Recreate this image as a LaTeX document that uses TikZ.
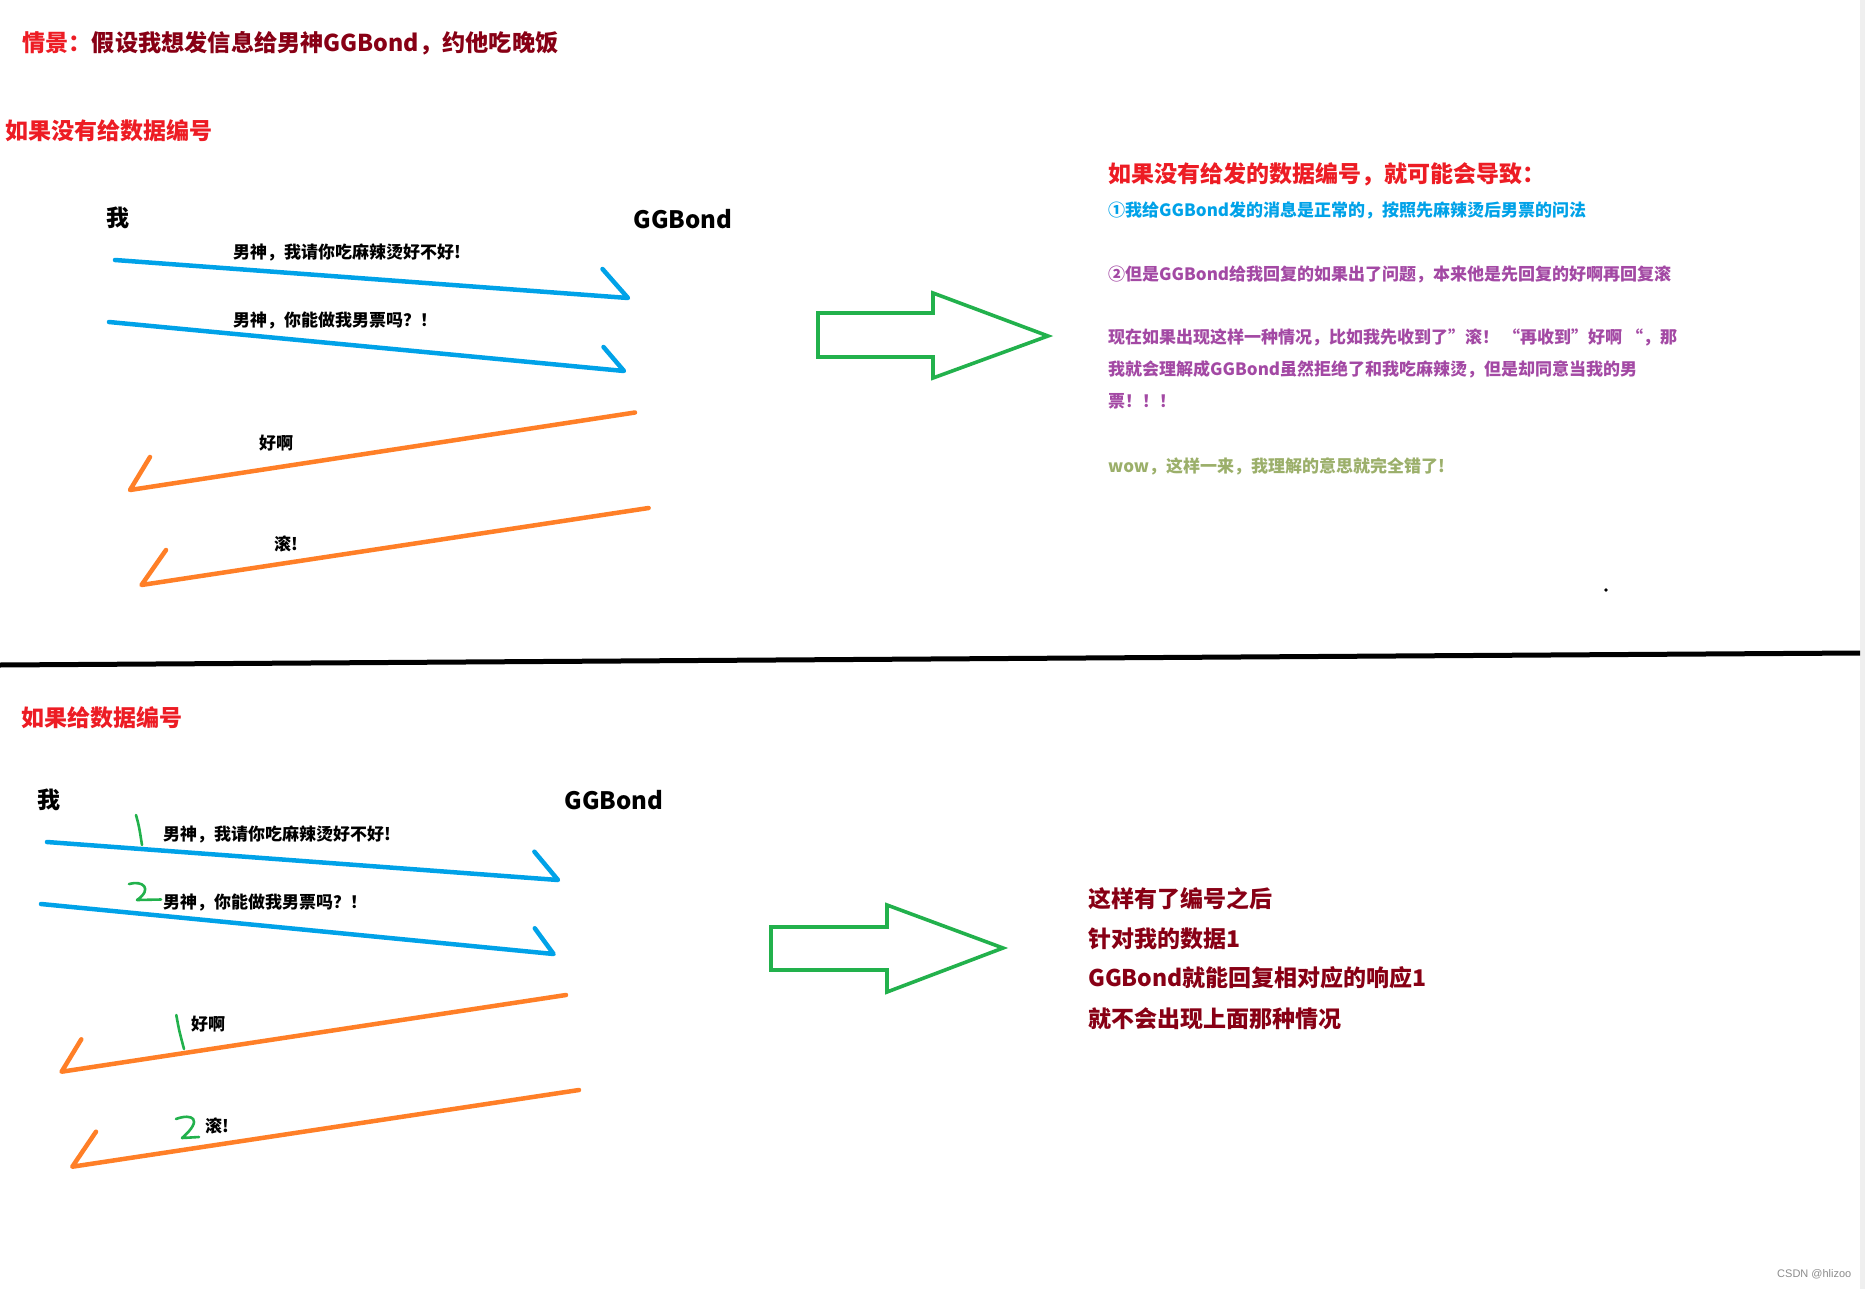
\documentclass[tikz,border=0pt]{standalone}
\usepackage{fontspec}
\setmainfont{Noto Sans CJK SC}
\newfontfamily\wmfont{Liberation Sans}
\definecolor{pblue}{HTML}{00A2E8}
\definecolor{porange}{HTML}{FF7F27}
\definecolor{pgreen}{HTML}{22B14C}
\definecolor{pred}{HTML}{ED1C24}
\definecolor{pdark}{HTML}{880015}
\definecolor{ppurple}{HTML}{A349A4}
\definecolor{polive}{HTML}{9BAF6A}
\definecolor{pstrip}{HTML}{EFEFEF}
\newcommand\fsz[1]{\fontsize{#1}{#1}\selectfont\bfseries}
\tikzset{
  txt/.style={inner sep=0pt, anchor=west},
  ctxt/.style={inner sep=0pt, anchor=center},
  blueline/.style={draw=pblue, line width=4.5pt, line cap=round, line join=round},
  orangeline/.style={draw=porange, line width=4.5pt, line cap=round, line join=round},
  tickline/.style={draw=pgreen, line width=2.6pt, line cap=round, line join=round},
  bigarrow/.style={draw=pgreen, line width=3.6pt, line join=miter},
}
\begin{document}
\begin{tikzpicture}[x=1pt,y=-1pt]
\useasboundingbox (0,0) rectangle (1865,1289);
\fill[white] (0,0) rectangle (1865,1289);
\fill[pstrip] (1860,0) rectangle (1865,1289);

% ---------- top section ----------
\node[txt, font=\fsz{23.2}] (title) at (22,43) {{\color{pred}情景：}{\color{pdark}假设我想发信息给男神GGBond，约他吃晚饭}};
\node[txt, font=\fsz{23}, text=pred] (h1) at (5,131) {如果没有给数据编号};
\node[ctxt, font=\fsz{23}] (me1) at (117.5,218) {我};
\node[ctxt, font=\fsz{24}] (gg1) at (683,219) {GGBond};

\coordinate (b1s) at (115,260);
\coordinate (b1e) at (628,298);
\coordinate (b1h) at (602.5,269);
\draw[blueline] (b1s) -- (b1e) -- (b1h);
\node[txt, font=\fsz{17}] (l1) at (233,252.5) {男神，我请你吃麻辣烫好不好!};

\coordinate (b2s) at (109,322);
\coordinate (b2e) at (624,371);
\coordinate (b2h) at (603.5,347);
\draw[blueline] (b2s) -- (b2e) -- (b2h);
\node[txt, font=\fsz{17}] (l2) at (233,321) {男神，你能做我男票吗？！};

\coordinate (o1s) at (635,412.5);
\coordinate (o1e) at (130,490);
\coordinate (o1h) at (150,457);
\draw[orangeline] (o1s) -- (o1e) -- (o1h);
\node[txt, font=\fsz{17}] (l3) at (259,443) {好啊};

\coordinate (o2s) at (648.6,508);
\coordinate (o2e) at (141.5,585);
\coordinate (o2h) at (166,550);
\draw[orangeline] (o2s) -- (o2e) -- (o2h);
\node[txt, font=\fsz{17}] (l4) at (274,544) {滚!};

\draw[bigarrow] (818,313) -- (933,313) -- (933,293) -- (1048,336) -- (933,378) -- (933,357) -- (818,357) -- cycle;

\node[txt, font=\fsz{23}, text=pred] (r0) at (1108,174) {如果没有给发的数据编号，就可能会导致：};
\node[txt, font=\fsz{17}, text=pblue] (r1) at (1108,210) {①我给GGBond发的消息是正常的，按照先麻辣烫后男票的问法};
\node[txt, font=\fsz{17}, text=ppurple] (r2) at (1108,274) {②但是GGBond给我回复的如果出了问题，本来他是先回复的好啊再回复滚};
\node[txt, font=\fsz{17}, text=ppurple] (r3) at (1108,337) {现在如果出现这样一种情况，比如我先收到了”滚！ “再收到”好啊 “，那};
\node[txt, font=\fsz{17}, text=ppurple] (r4) at (1108,369) {我就会理解成GGBond虽然拒绝了和我吃麻辣烫，但是却同意当我的男};
\node[txt, font=\fsz{17}, text=ppurple] (r5) at (1108,401) {票！！！};
\node[txt, font=\fsz{17}, text=polive] (r6) at (1108,466) {wow，这样一来，我理解的意思就完全错了!};

\fill[black] (1606,590) circle (1.8);

% divider
\coordinate (dl) at (0,665);
\coordinate (dr) at (1860,653);
\draw[black, line width=5pt] (dl) -- (dr);

% ---------- bottom section ----------
\node[txt, font=\fsz{23}, text=pred] (h2) at (21,718) {如果给数据编号};
\node[ctxt, font=\fsz{23}] (me2) at (48.7,800) {我};
\node[ctxt, font=\fsz{24}] (gg2) at (614,800.5) {GGBond};

\coordinate (b3s) at (47,842);
\coordinate (b3e) at (558,880);
\coordinate (b3h) at (534.4,851.7);
\draw[blueline] (b3s) -- (b3e) -- (b3h);
\draw[tickline] (136,815) .. controls (139,826) .. (142,845);
\node[txt, font=\fsz{17}] (l5) at (163,834) {男神，我请你吃麻辣烫好不好!};

\coordinate (b4s) at (41,904);
\coordinate (b4e) at (553.6,954);
\coordinate (b4h) at (534.8,928.3);
\draw[blueline] (b4s) -- (b4e) -- (b4h);
\draw[tickline] (129,884) .. controls (143,880) and (153,889) .. (137,900) -- (161,899.5);
\node[txt, font=\fsz{17}] (l6) at (163,902.5) {男神，你能做我男票吗？！};

\coordinate (o3s) at (566,995);
\coordinate (o3e) at (61.6,1071.7);
\coordinate (o3h) at (81.3,1039.3);
\draw[orangeline] (o3s) -- (o3e) -- (o3h);
\draw[tickline] (176.3,1015) .. controls (179,1030) .. (184,1049);
\node[txt, font=\fsz{17}] (l7) at (191,1024) {好啊};

\coordinate (o4s) at (579,1090);
\coordinate (o4e) at (72.3,1166.7);
\coordinate (o4h) at (96,1131.7);
\draw[orangeline] (o4s) -- (o4e) -- (o4h);
\draw[tickline] (176,1119) .. controls (192,1113) and (204,1119) .. (182,1138) -- (199,1137);
\node[txt, font=\fsz{17}] (l8) at (205,1126) {滚!};

\draw[bigarrow] (771,927) -- (887,927) -- (887,905) -- (1003,948) -- (887,992) -- (887,970) -- (771,970) -- cycle;

\node[txt, font=\fsz{23}, text=pdark] (s1) at (1088,898.5) {这样有了编号之后};
\node[txt, font=\fsz{23}, text=pdark] (s2) at (1088,939) {针对我的数据1};
\node[txt, font=\fsz{23}, text=pdark] (s3) at (1088,978) {GGBond就能回复相对应的响应1};
\node[txt, font=\fsz{23}, text=pdark] (s4) at (1088,1019) {就不会出现上面那种情况};

\node[txt, font=\wmfont\fontsize{11}{11}\selectfont, text=black!45] (wm) at (1777,1274) {CSDN @hlizoo};
\end{tikzpicture}
\end{document}
